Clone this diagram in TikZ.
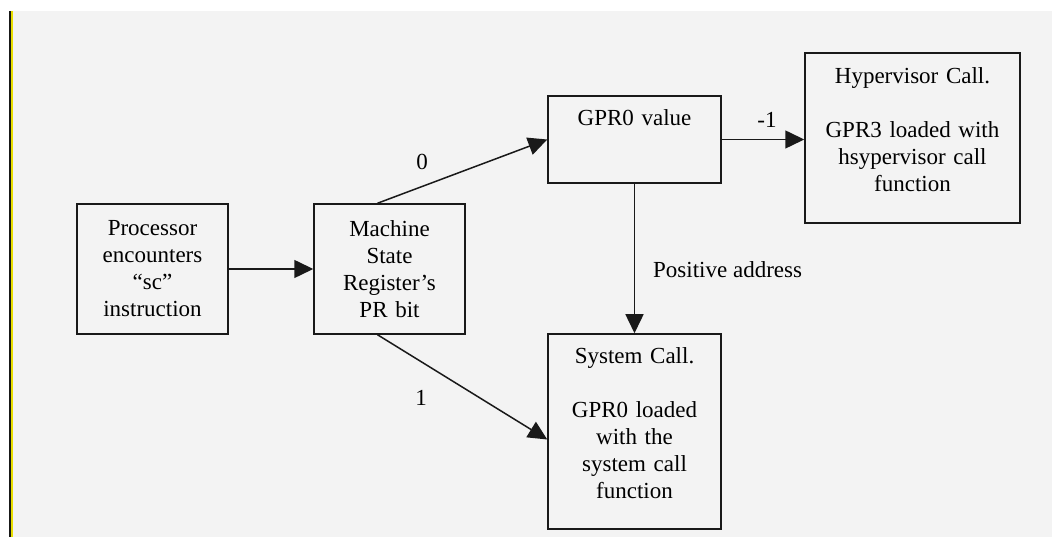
\documentclass[tikz,border=0pt]{standalone}
\usepackage{fontspec}
\setmainfont{Liberation Serif}
\usepackage{tikz}
\usetikzlibrary{arrows.meta,calc}
\definecolor{paper}{RGB}{243,243,243}
\definecolor{edge}{RGB}{25,25,25}
\definecolor{marker}{RGB}{232,222,0}
\tikzset{
  % ---- boxes ------------------------------------------------------------
  blk/.style={
    draw=edge, line width=1.5pt, fill=paper, text=black,
    font=\fontsize{23}{27}\selectfont, align=center,
    inner xsep=2pt, inner ysep=0pt},
  % text centred in the box
  blkc/.style={blk, minimum height=130pt},
  % text hung from the top edge: #1 down to first baseline, #2 below it
  blkt/.style 2 args={blk, text height=#1, text depth=#2},
  % ---- arrows -----------------------------------------------------------
  ar/.style={-{Triangle[length=19pt,width=18pt]}, draw=edge, line width=1.5pt},
  % ---- labels -----------------------------------------------------------
  lbl/.style={font=\fontsize{23}{27}\selectfont, text=black, inner sep=0pt},
}

\begin{document}
\begin{tikzpicture}[x=1pt,y=1pt]
\useasboundingbox (0,0) rectangle (1052,537);

% page and margin rule
\fill[white] (0,0) rectangle (1052,537);
\fill[paper] (12,0) rectangle (1052,526);
\fill[edge] (9,0) rectangle (11,526);
\fill[marker] (11,0) rectangle (13,526);

% ============================ boxes ========================================
\node[blkc, text width=147pt] (proc) at (152.5,268)
  {Processor\\ encounters\\ “sc”\\ instruction};
\node[blkc, text width=147pt] (msr) at (389.5,268)
  {Machine\\ State\\ Register’s\\ PR bit};
\node[blkt={30pt}{57pt}, text width=169pt] (gpr) at (634.5,397.5)
  {GPR0 value};
\node[blkt={31pt}{139pt}, text width=211pt] (hyp) at (912.5,399)
  {Hypervisor Call.\\[27pt] GPR3 loaded with\\ hsypervisor call\\ function};
\node[blkt={30pt}{165pt}, text width=169pt] (sys) at (634.5,105.5)
  {System Call.\\[27pt] GPR0 loaded\\ with the\\ system call\\ function};

% ============================ arrows =======================================
\draw[ar] (proc) -- (msr);
\draw[ar] ([xshift=-12pt]msr.north) -- (gpr.west);
\draw[ar] ([xshift=-12pt]msr.south) -- ([yshift=-8pt]sys.west);
\draw[ar] (gpr.east) -- (gpr.east -| hyp.west);
\draw[ar] (gpr) -- (sys);

% ============================ labels =======================================
\node[lbl] (l0) at (422,375) {0};
\node[lbl] (l1) at (421,139) {1};
\node[lbl] (lm) at (767,417) {-1};
\node[lbl, anchor=west] (lpos) at (653,267) {Positive address};

\end{tikzpicture}
\end{document}
